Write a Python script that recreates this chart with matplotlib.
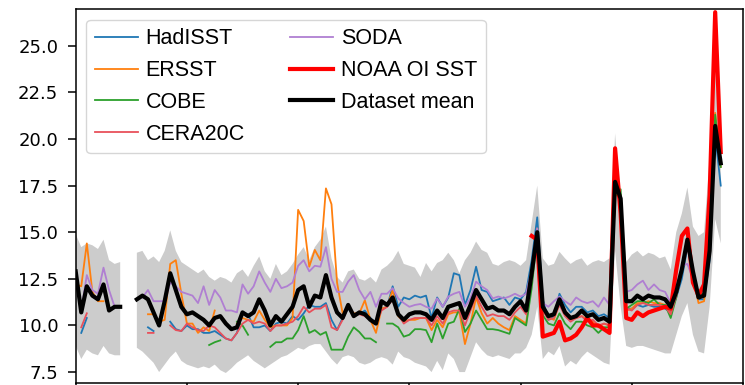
import numpy as np
import matplotlib
matplotlib.use("Agg")
import matplotlib.pyplot as plt

nan = np.nan
years = np.arange(1900, 2017)

hadisst = [
    nan, 9.6, 10.4, nan, nan, nan, nan, nan, nan, nan,
    nan, nan, nan, 9.9, 9.7, nan, nan, 10.2, 9.8, 9.7,
    10.0, 9.8, 9.8, 9.6, 9.6, 9.7, 9.5, 9.3, 9.2, 9.6,
    10.7, 10.6, 9.9, 9.9, 10.0, 9.7, 10.1, 10.2, 10.1, 10.5,
    10.3, 10.65, 11.1, 11.0, 11.0, 11.2, 10.3, 9.75, 10.4, 10.9,
    10.6, 10.6, 10.8, 10.4, 10.1, 10.9, 11.0, 12.1, 11.0, 11.5,
    11.4, 11.6, 11.5, 11.6, 10.4, 11.5, 11.0, 11.5, 12.8, 12.7,
    11.1, 11.9, 13.15, 11.9, 11.8, 11.3, 11.4, 11.5, 11.1, 11.5,
    11.4, 11.8, 13.5, 15.8, 11.4, 10.3, 10.5, 11.7, 11.1, 10.7,
    11.0, 11.0, 10.7, 10.8, 10.5, 10.6, 10.4, 17.8, 16.5, 10.9,
    10.9, 11.1, 11.0, 11.1, 11.0, 11.0, 10.9, 10.7, 11.5, 12.5,
    14.2, 13.0, 11.4, 11.4, 13.5, 20.2, 17.5]

ersst = [
    12.2, 12.1, 14.4, 11.8, 11.3, 11.3, nan, nan, nan, nan,
    nan, nan, nan, 10.6, 10.6, 10.2, 10.3, 13.3, 13.5, 11.7,
    10.1, 10.1, 9.6, 9.9, 9.7, 10.8, nan, nan, nan, 10.1,
    10.4, 10.3, 10.2, 10.8, 10.3, 9.9, 10.0, 10.0, 10.0, 10.4,
    16.2, 15.6, 13.15, 14.05, 13.5, 17.35, 16.5, 12.3, 10.65, 11.0,
    10.65, 10.65, 11.35, 10.3, 9.6, 10.9, 11.0, 11.9, 10.5, 10.2,
    10.3, 10.3, 10.4, 10.4, 9.75, 10.3, 9.9, 10.6, 10.7, 10.7,
    9.0, 10.1, 11.5, 10.65, 10.1, 10.4, 10.1, 9.9, 9.75, 10.5,
    10.3, 10.1, 12.5, 15.2, 10.8, 10.45, 10.3, 11.2, 10.6, 10.3,
    10.4, 10.5, 10.3, 10.2, 9.9, 10.1, 10.0, 17.0, 16.9, 10.8,
    10.9, 11.2, 11.2, 11.3, 11.2, 11.2, 11.1, 10.6, 11.6, 13.0,
    14.4, 12.7, 11.2, 11.3, 14.0, 21.4, 18.5]

cobe = [
    nan, nan, nan, nan, nan, nan, nan, nan, nan, nan,
    nan, nan, nan, nan, nan, nan, nan, nan, nan, nan,
    nan, nan, nan, nan, 8.95, 9.1, 9.2, nan, nan, 10.2,
    10.0, 9.5, nan, nan, nan, 8.85, 9.1, 9.1, 9.3, 9.3,
    9.75, 10.5, 9.6, 9.75, 9.5, 9.65, 8.7, 8.7, 8.7, 9.4,
    9.9, 9.65, 9.3, 9.3, 9.1, nan, 10.1, 10.1, 9.9, 9.4,
    9.5, 9.8, 9.8, 9.75, 9.1, 10.1, 9.3, 10.1, 10.2, 10.9,
    9.65, 10.1, 10.8, 10.3, 9.8, 9.8, 9.75, 9.65, 9.55, 10.4,
    10.2, 10.0, 12.0, 14.8, 10.55, 10.1, 10.0, 10.65, 10.1, 9.8,
    10.2, 10.2, 10.0, 9.9, 9.6, 9.9, 9.9, 17.0, 17.3, 10.9,
    11.1, 11.3, 11.3, 11.2, 11.4, 11.1, 11.1, 10.4, 11.5, 13.0,
    14.5, 12.6, 11.7, 11.7, 14.5, 21.3, 18.5]

cera20c = [
    nan, 9.9, 10.65, nan, nan, nan, nan, nan, nan, nan,
    nan, nan, nan, 9.6, 9.6, nan, nan, 10.0, 9.75, 9.7,
    10.1, 9.9, 9.75, 9.7, 10.0, 9.9, 9.6, 9.3, 9.2, 9.6,
    10.1, 10.3, 10.1, 10.2, 10.1, 9.7, 10.0, 10.0, 10.1, 10.2,
    10.5, 11.0, 10.7, 10.9, 10.9, 11.1, 9.9, 9.75, 10.3, 11.0,
    10.6, 10.6, 10.5, 10.3, 10.1, 10.8, 11.0, 11.4, 10.6, 10.1,
    10.3, 10.4, 10.4, 10.4, 10.0, 10.5, 10.1, 10.7, 10.8, 10.8,
    10.0, 10.8, 11.6, 11.0, 10.5, 10.6, 10.5, 10.5, 10.3, 10.7,
    11.0, 10.6, 12.5, 15.0, 10.8, 10.3, 10.4, 11.1, 10.5, 10.2,
    10.4, 10.5, 10.2, 10.3, 10.0, 10.1, 10.0, 17.5, 16.5, 10.9,
    10.8, 11.1, 11.2, 11.1, 11.1, 11.1, 11.0, 10.6, 11.6, 12.9,
    14.5, nan, nan, nan, nan, nan, nan]

soda = [
    nan, 10.8, 12.7, 11.9, 11.7, 13.1, 11.9, 11.0, nan, nan,
    nan, nan, 11.5, 11.9, 11.3, 11.3, 11.3, 12.3, 12.1, 11.8,
    11.7, 11.6, 11.2, 12.1, 11.1, 11.9, 11.5, 10.8, 10.8, 10.7,
    12.2, 11.7, 12.1, 12.9, 12.3, 11.8, 12.5, 12.0, 12.1, 12.3,
    13.2, 13.5, 12.9, 13.2, 13.15, 14.2, 12.5, 11.8, 11.8, 12.35,
    12.7, 11.9, 11.4, 11.8, 11.0, 11.7, 11.7, 12.0, 11.45, 11.2,
    11.0, 11.1, 11.15, 11.0, 10.9, 11.45, 11.0, 11.55, 11.7, 11.8,
    11.0, 11.45, 12.35, 12.1, 11.9, 11.45, 11.55, 11.45, 11.55, 11.7,
    11.55, 11.7, 13.0, 15.2, 11.2, 11.0, 11.3, 11.55, 11.3, 11.1,
    11.5, 11.3, 11.2, 11.3, 11.0, 11.5, 11.1, 17.6, 16.5, 11.8,
    11.9, 12.2, 12.4, 11.9, 12.2, 11.9, 11.8, 11.2, 12.0, 13.2,
    13.3, 12.5, nan, nan, nan, nan, nan]

noaa_oi = [nan] * 82 + [
    14.8, 14.6, 9.4, 9.5, 9.6, 10.2, 9.2, 9.3,
    9.5, 9.9, 10.4, 10.0, 10.0, 9.8, 9.6, 19.5, 16.0, 10.4,
    10.3, 10.7, 10.5, 10.7, 10.8, 10.9, 11.0, 10.9, 13.0, 14.8,
    15.2, 12.3, 11.6, 12.2, 17.0, 26.8, 19.3]

mean = [
    12.9, 10.7, 12.1, 11.6, 11.4, 12.2, 10.8, 11.0, 11.0, nan,
    nan, 11.4, 11.6, 11.4, 10.7, 10.0, 11.3, 12.8, 11.9, 11.0,
    10.6, 10.7, 10.5, 10.3, 10.0, 10.4, 10.5, 10.1, 9.8, 9.9,
    10.7, 10.5, 10.7, 11.4, 10.8, 10.0, 10.5, 10.2, 10.6, 11.0,
    11.9, 12.1, 11.0, 11.6, 11.5, 12.7, 11.5, 10.7, 10.4, 11.1,
    10.5, 10.7, 10.6, 10.3, 10.1, 11.3, 11.1, 11.5, 10.6, 10.3,
    10.6, 10.7, 10.7, 10.6, 10.3, 10.8, 10.4, 11.0, 11.1, 11.2,
    10.4, 11.1, 11.9, 11.4, 10.9, 11.0, 10.8, 10.8, 10.6, 11.0,
    11.3, 10.8, 12.8, 15.0, 11.0, 10.5, 10.6, 11.4, 10.7, 10.4,
    10.5, 10.8, 10.5, 10.6, 10.3, 10.4, 10.2, 17.7, 16.8, 11.3,
    11.3, 11.6, 11.4, 11.6, 11.5, 11.5, 11.4, 11.0, 11.8, 13.0,
    14.6, 12.9, 11.5, 11.6, 14.0, 20.7, 18.7]

# grey envelope
upper = [
    14.9, 14.2, 14.4, 14.3, 14.1, 14.6, 13.5, 13.3, 13.4, nan,
    nan, 13.9, 14.0, 13.5, 13.7, 13.4, 14.0, 15.1, 14.0, 13.4,
    13.2, 13.0, 12.8, 13.0, 12.6, 12.4, 12.6, 12.5, 12.3, 12.8,
    13.0, 12.6, 13.2, 13.7, 12.9, 12.5, 13.3, 12.7, 12.9, 13.3,
    13.8, 14.2, 13.5, 14.2, 14.6, 15.3, 13.6, 12.6, 12.3, 12.9,
    13.0, 12.5, 12.4, 12.6, 12.3, 13.0, 13.2, 13.5, 14.0, 13.3,
    13.2, 13.1, 12.6, 13.35, 12.9, 13.35, 13.5, 13.9, 13.5, 12.8,
    13.5, 13.9, 14.5, 14.05, 13.9, 13.3, 13.2, 13.4, 13.5, 13.4,
    13.2, 13.5, 15.5, 17.5, 13.6, 13.2, 13.3, 13.95, 13.6, 13.3,
    13.5, 13.6, 13.2, 13.4, 13.5, 13.4, 13.6, 20.3, 16.5, 13.4,
    13.8, 14.0, 13.7, 13.9, 13.8, 13.6, 13.7, 13.0, 15.0, 16.0,
    17.4, 15.3, 14.8, 15.0, 19.0, 25.0, 21.5]

lower = [
    8.9, 8.2, 8.7, 8.5, 8.4, 8.9, 8.5, 8.4, 8.4, nan,
    nan, 8.8, 8.6, 8.3, 8.0, 7.5, 7.9, 8.3, 8.6, 8.1,
    7.9, 7.8, 7.7, 7.8, 7.7, 7.9, 7.6, 7.45, 7.7, 8.0,
    8.2, 8.4, 8.1, 7.9, 7.7, 7.9, 8.1, 8.3, 8.4, 8.6,
    8.8, 8.7, 8.9, 9.0, 9.0, 8.6, 8.2, 7.9, 8.3, 8.4,
    8.3, 8.0, 7.9, 8.0, 8.2, 8.3, 8.2, 7.9, 8.6, 8.3,
    8.2, 8.0, 7.9, 7.8, 7.5, 8.1, 7.6, 8.5, 8.2, 7.5,
    7.5, 8.3, 9.1, 8.7, 8.4, 8.3, 8.4, 8.3, 8.2, 8.5,
    8.5, 8.8, 9.5, 11.0, 8.2, 8.6, 8.4, 8.9, 7.8, 8.1,
    7.9, 8.3, 8.6, 8.4, 8.2, 8.0, 7.9, 14.0, 11.0, 8.9,
    8.8, 8.9, 8.9, 8.8, 8.7, 8.6, 8.5, 8.5, 9.5, 10.5,
    11.2, 9.5, 8.6, 8.5, 11.0, 15.7, 14.4]

plt.rcParams['font.family'] = ['Liberation Sans', 'DejaVu Sans']

fig = plt.figure(figsize=(7.45, 3.85), dpi=100)
ax = fig.add_axes([0.1016, 0.006, 0.8957, 0.9706])

ax.fill_between(years, np.array(lower), np.array(upper), color='#cccccc', lw=0)
ax.plot(years, hadisst, color='tab:blue', lw=1.3, label='HadISST')
ax.plot(years, ersst, color='tab:orange', lw=1.3, label='ERSST')
ax.plot(years, cobe, color='tab:green', lw=1.3, label='COBE')
ax.plot(years, cera20c, color='#e8505b', lw=1.3, label='CERA20C')
ax.plot(years, soda, color='#b07fd2', lw=1.3, label='SODA')
ax.plot(years, noaa_oi, color='red', lw=3.0, label='NOAA OI SST')
ax.plot(years, mean, color='black', lw=3.0, label='Dataset mean')

ax.set_xlim(1900, 2020)
ax.set_ylim(6.93, 26.97)
ax.set_xticks(np.arange(1900, 2021, 20))
ax.set_yticks(np.arange(7.5, 26, 2.5))
ax.tick_params(length=6, width=1.1, pad=6.5)
ax.tick_params(axis='x', labelbottom=False)
for lab in ax.get_yticklabels():
    lab.set_fontfamily('DejaVu Sans')
    lab.set_fontsize(13)
for s in ax.spines.values():
    s.set_linewidth(1.1)

ax.legend(loc='upper left', ncol=2, fontsize=15.5, handletextpad=0.35,
          columnspacing=2.1)

fig.savefig('out.png', dpi=100)
